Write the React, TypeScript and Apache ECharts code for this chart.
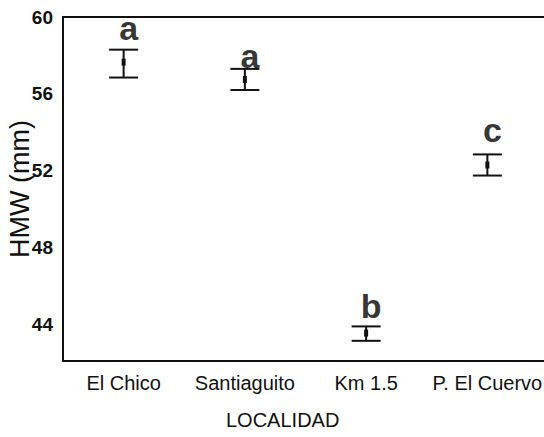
import React, { useEffect, useRef } from "react";
import * as echarts from "echarts";

const categories = ["El Chico", "Santiaguito", "Km 1.5", "P. El Cuervo"];
const means = [57.65, 56.75, 43.55, 52.3];
const upper = [58.3, 57.3, 43.9, 52.85];
const lower = [56.85, 56.2, 43.15, 51.75];
const letters = ["a", "a", "b", "c"];
const letterValues = [59.45, 57.95, 44.95, 54.1];
const yTicks = [44, 48, 52, 56, 60];

const FONT = "'Liberation Sans', Arial, sans-serif";

export default function App() {
  const ref = useRef<HTMLDivElement>(null);
  useEffect(() => {
    if (!ref.current) return;
    const chart = echarts.init(ref.current, null, { renderer: "svg" });
    chart.setOption({
      animation: false,
      backgroundColor: "#ffffff",
      grid: {
        left: 63,
        top: 17,
        width: 485,
        bottom: 76,
        containLabel: false,
        outerBoundsMode: "none",
      },
      xAxis: [
        {
          type: "category",
          data: categories,
          boundaryGap: true,
          axisTick: { show: false },
          axisLine: { lineStyle: { color: "#111", width: 2 } },
          axisLabel: {
            color: "#111",
            fontFamily: FONT,
            fontSize: 20,
            margin: 12,
            interval: 0,
          },
        },
        {
          type: "category",
          data: categories,
          position: "top",
          axisTick: { show: false },
          axisLabel: { show: false },
          axisLine: { show: true, lineStyle: { color: "#111", width: 2 } },
        },
      ],
      yAxis: {
        type: "value",
        min: 42.1,
        max: 60,
        splitLine: { show: false },
        axisTick: { show: false },
        axisLine: { show: true, lineStyle: { color: "#111", width: 2 } },
        axisLabel: {
          customValues: yTicks,
          color: "#111",
          fontFamily: FONT,
          fontWeight: "bold",
          fontSize: 19,
          margin: 10,
        },
        name: "HMW (mm)",
        nameLocation: "middle",
        nameGap: 30,
        nameMoveOverlap: false,
        nameTextStyle: {
          color: "#111",
          fontFamily: FONT,
          fontSize: 27,
        },
      },
      graphic: [
        {
          type: "text",
          left: 226,
          top: 410,
          style: {
            text: "LOCALIDAD",
            fill: "#111",
            font: "20px " + FONT,
          },
        },
      ],
      series: [
        {
          type: "custom",
          data: categories.map((_, i) => [i, lower[i], upper[i], means[i]]),
          renderItem: (params: any, api: any) => {
            const i = api.value(0);
            const lo = api.coord([i, api.value(1)]);
            const hi = api.coord([i, api.value(2)]);
            const mid = api.coord([i, api.value(3)]);
            const hw = 14.5;
            const style = { stroke: "#111", lineWidth: 2 };
            return {
              type: "group",
              children: [
                { type: "line", shape: { x1: lo[0], y1: lo[1], x2: hi[0], y2: hi[1] }, style },
                { type: "line", shape: { x1: hi[0] - hw, y1: hi[1], x2: hi[0] + hw, y2: hi[1] }, style },
                { type: "line", shape: { x1: lo[0] - hw, y1: lo[1], x2: lo[0] + hw, y2: lo[1] }, style },
                {
                  type: "rect",
                  shape: { x: mid[0] - 2, y: mid[1] - 3.5, width: 4, height: 7 },
                  style: { fill: "#111" },
                },
              ],
            };
          },
        },
        {
          type: "scatter",
          data: categories.map((_, i) => [i, letterValues[i]]),
          symbolSize: 1,
          itemStyle: { color: "rgba(0,0,0,0)" },
          label: {
            show: true,
            position: "inside",
            offset: [5, 0],
            formatter: (p: any) => letters[p.dataIndex],
            color: "#000",
            textBorderWidth: 0,
            fontFamily: FONT,
            fontWeight: "bold",
            fontSize: 34,
          },
        },
      ],
    });
    return () => chart.dispose();
  }, []);
  return (
    <div
      ref={ref}
      style={{ position: "fixed", left: 0, top: 0, width: 544, height: 437 }}
    />
  );
}
